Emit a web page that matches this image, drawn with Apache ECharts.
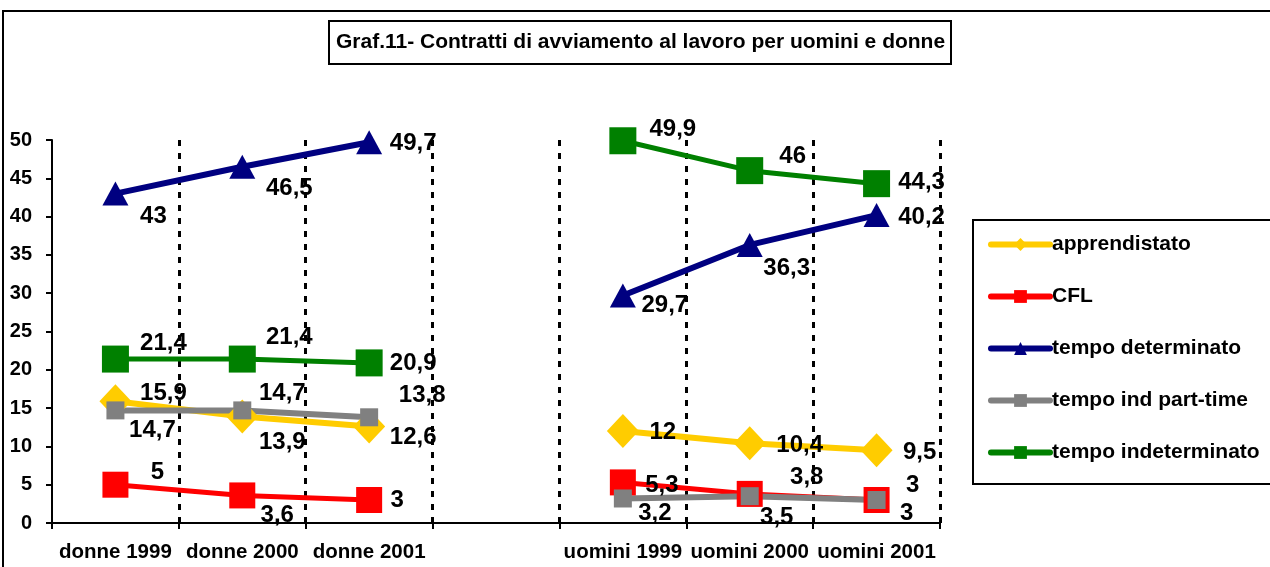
<!DOCTYPE html>
<html>
<head>
<meta charset="utf-8">
<script src="https://cdn.jsdelivr.net/npm/echarts@6/dist/echarts.min.js"></script>
<style>
html, body { margin: 0; padding: 0; background: #fff; }
#chart { width: 1270px; height: 567px; }
</style>
</head>
<body>
<div id="chart"></div>
<script>
// categorie (la quarta e' vuota: separa donne e uomini)
var categories = ['donne 1999', 'donne 2000', 'donne 2001', '', 'uomini 1999', 'uomini 2000', 'uomini 2001'];
var seriesNames = ['apprendistato', 'CFL', 'tempo determinato', 'tempo ind part-time', 'tempo indeterminato'];

var apprendistato = [15.9, 13.9, 12.6, null, 12, 10.4, 9.5];
var cfl = [5, 3.6, 3, null, 5.3, 3.8, 3];
var tempoDet = [43, 46.5, 49.7, null, 29.7, 36.3, 40.2];
var partTime = [14.7, 14.7, 13.8, null, 3.2, 3.5, 3];
var tempoIndet = [21.4, 21.4, 20.9, null, 49.9, 46, 44.3];

var yTicks = { min: 0, max: 50, step: 5 };

// spostamento delle etichette rispetto al punto (come nel grafico excel)
var shiftAppr = [[48, -8], [40, 26], [44, 11], null, [40, 1], [50, 2], [43, 2]];
var shiftCfl = [[42, -12], [35, 20], [28, 0], null, [39, 3], [57, -17], [36, -15]];
var shiftDet = [[38, 23], [47, 22], [44, 1], null, [42, 10], [37, 23], [45, 2]];
var shiftPart = [[37, 20], [40, -17], [53, -22], null, [32, 15], [27, 21], [30, 13]];
var shiftIndet = [[48, -16], [47, -22], [44, 0], null, [50, -11], [43, -14], [45, -1]];

var FONT = 'Liberation Sans, Arial, sans-serif';

function buildData(values, shifts) {
    return values.map(function (v, i) {
        if (v == null) return '-';
        return { value: v, label: { offset: shifts[i] } };
    });
}

function makeSeries(name, values, shifts, color, symbol, size, width) {
    return {
        name: name,
        type: 'line',
        data: buildData(values, shifts),
        symbol: symbol,
        symbolSize: size,
        showAllSymbol: true,
        connectNulls: false,
        itemStyle: { color: color, opacity: 1 },
        lineStyle: { color: color, width: width },
        emphasis: { disabled: true },
        label: {
            show: true,
            position: 'inside',
            color: '#000',
            fontFamily: FONT,
            fontWeight: 'bold',
            fontSize: 24,
            formatter: function (p) {
                return String(p.value).replace('.', ',');
            }
        },
        z: 2
    };
}

var myChart = echarts.init(document.getElementById('chart'), null, { renderer: 'canvas' });

var option = {
    backgroundColor: '#fff',
    animation: false,
    textStyle: { fontFamily: FONT },
    title: {
        text: 'Graf.11- Contratti di avviamento al lavoro per uomini e donne',
        left: 329,
        top: 21,
        padding: [11, 6, 11, 7],
        borderColor: '#000',
        borderWidth: 2,
        textStyle: { fontFamily: FONT, fontWeight: 'bold', fontSize: 21, color: '#000' }
    },
    graphic: [{
        type: 'rect',
        shape: { x: 3, y: 11, width: 1300, height: 620 },
        style: { fill: null, stroke: '#000', lineWidth: 2 },
        silent: true
    }],
    legend: {
        orient: 'vertical',
        left: 973,
        top: 220,
        padding: [14, 18, 21, 15],
        itemGap: 31,
        itemWidth: 59,
        itemHeight: 16,
        borderColor: '#000',
        borderWidth: 2,
        data: seriesNames,
        lineStyle: { width: 6, cap: 'round' },
        textStyle: { fontFamily: FONT, fontWeight: 'bold', fontSize: 21, color: '#000', padding: [0, 0, 0, -3] }
    },
    grid: { left: 52, right: 330, top: 140, bottom: 44, containLabel: false },
    xAxis: {
        type: 'category',
        data: categories,
        boundaryGap: true,
        axisLine: { lineStyle: { color: '#000', width: 2 } },
        axisTick: { show: true, interval: 0, length: 6, lineStyle: { color: '#000', width: 2 } },
        axisLabel: {
            interval: 0, margin: 19, color: '#000',
            fontFamily: FONT, fontWeight: 'bold', fontSize: 20.5
        },
        splitLine: {
            show: true,
            interval: function (i) { return i > 0; },
            lineStyle: { color: '#000', width: 3, type: [6, 7] }
        }
    },
    yAxis: {
        type: 'value',
        min: yTicks.min,
        max: yTicks.max,
        interval: yTicks.step,
        axisLine: { show: true, lineStyle: { color: '#000', width: 2 } },
        axisTick: { show: true, length: 6, lineStyle: { color: '#000', width: 2 } },
        axisLabel: { margin: 20, color: '#000', fontFamily: FONT, fontWeight: 'bold', fontSize: 20 },
        splitLine: { show: false }
    },
    series: [
        makeSeries(seriesNames[0], apprendistato, shiftAppr, '#FFCC00', 'diamond', [32, 34], 6),
        makeSeries(seriesNames[1], cfl, shiftCfl, '#FF0000', 'rect', 26, 5),
        makeSeries(seriesNames[2], tempoDet, shiftDet, '#000080', 'triangle', [26, 24], 6),
        makeSeries(seriesNames[3], partTime, shiftPart, '#808080', 'rect', 18, 6),
        makeSeries(seriesNames[4], tempoIndet, shiftIndet, '#008000', 'rect', 27, 5)
    ]
};

myChart.setOption(option);
</script>
</body>
</html>
